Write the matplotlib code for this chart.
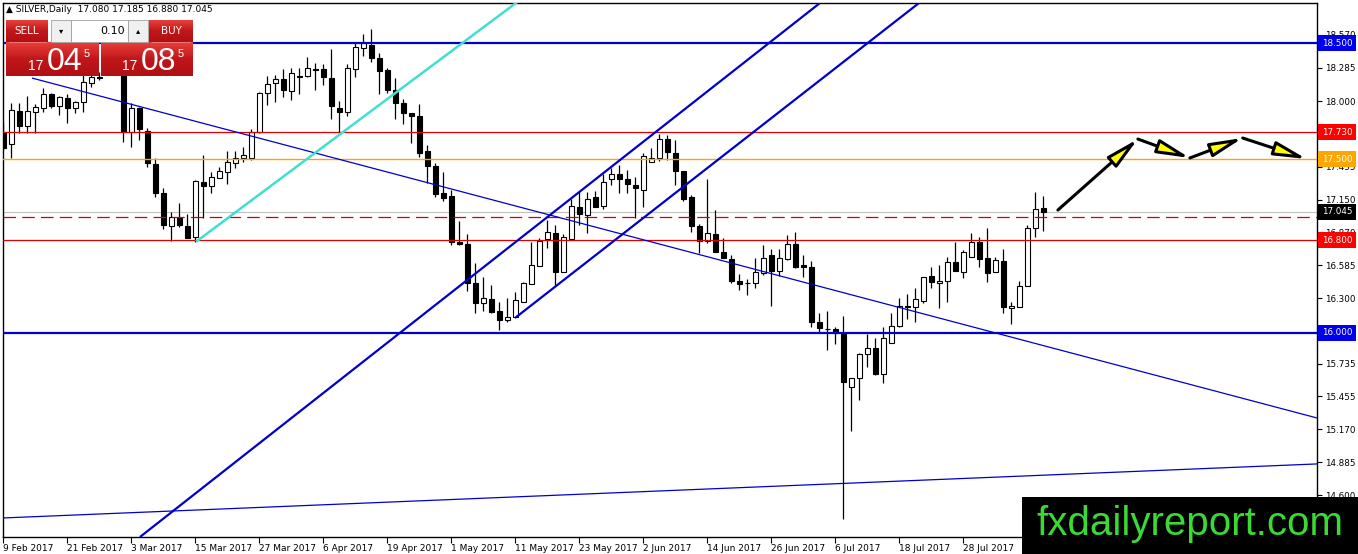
import matplotlib
matplotlib.use("Agg")
import matplotlib.pyplot as plt
import matplotlib.transforms as mtransforms
import numpy as np
from matplotlib.patches import Rectangle, FancyArrowPatch
from matplotlib.colors import LinearSegmentedColormap

# --- daily SILVER candles, bar 0 = 9 Feb 2017, last bar = 11 Aug 2017 ---
opens = [17.733, 17.629, 17.914, 17.784, 17.905, 17.940, 18.060, 17.957, 18.026, 17.940,
         17.991, 18.155, 18.198, 18.267, 18.397, 18.336, 17.733, 17.940, 17.741, 17.457,
         17.207, 16.922, 16.991, 16.922, 16.828, 17.302, 17.267, 17.336, 17.388, 17.466,
         17.509, 17.509, 17.733, 18.069, 18.155, 18.190, 18.086, 18.216, 18.216, 18.276,
         18.276, 18.198, 17.940, 17.905, 18.276, 18.457, 18.483, 18.371, 18.267, 18.095,
         17.983, 17.897, 17.871, 17.569, 17.440, 17.207, 17.181, 16.784, 16.767, 16.431,
         16.259, 16.293, 16.190, 16.112, 16.138, 16.267, 16.422, 16.578, 16.810, 16.862,
         16.526, 16.810, 17.086, 17.017, 17.172, 17.095, 17.328, 17.371, 17.328, 17.276,
         17.233, 17.474, 17.509, 17.672, 17.552, 17.397, 17.172, 16.922, 16.793, 16.853,
         16.698, 16.638, 16.448, 16.431, 16.431, 16.517, 16.672, 16.534, 16.638, 16.767,
         16.586, 16.569, 16.095, 16.034, 16.034, 15.991, 15.534, 15.612, 15.819, 15.871,
         15.647, 15.914, 16.060, 16.233, 16.224, 16.276, 16.491, 16.431, 16.448, 16.612,
         16.526, 16.655, 16.784, 16.647, 16.526, 16.621, 16.216, 16.224, 16.405, 16.905,
         17.080]
highs = [17.819, 17.983, 17.983, 18.043, 17.974, 18.112, 18.069, 18.043, 18.060, 18.000,
         18.224, 18.233, 18.250, 18.440, 18.440, 18.388, 17.983, 17.948, 17.767, 17.509,
         17.250, 17.043, 17.121, 17.026, 17.319, 17.534, 17.388, 17.431, 17.569, 17.569,
         17.603, 17.759, 18.078, 18.216, 18.224, 18.276, 18.284, 18.284, 18.379, 18.328,
         18.319, 18.448, 18.000, 18.319, 18.500, 18.578, 18.621, 18.414, 18.284, 18.198,
         18.017, 17.897, 17.974, 17.621, 17.466, 17.388, 17.233, 16.966, 16.853, 16.603,
         16.483, 16.414, 16.267, 16.302, 16.353, 16.440, 16.784, 16.819, 16.974, 16.931,
         16.853, 17.155, 17.216, 17.216, 17.224, 17.371, 17.422, 17.448, 17.405, 17.345,
         17.552, 17.595, 17.716, 17.707, 17.664, 17.397, 17.190, 16.940, 17.328, 17.060,
         16.819, 16.672, 16.509, 16.466, 16.647, 16.759, 16.724, 16.724, 16.845, 16.871,
         16.672, 16.621, 16.172, 16.190, 16.052, 16.147, 15.612, 15.828, 15.991, 15.957,
         16.052, 16.172, 16.302, 16.336, 16.388, 16.483, 16.569, 16.586, 16.655, 16.784,
         16.716, 16.862, 16.828, 16.905, 16.655, 16.724, 16.267, 16.448, 16.931, 17.216,
         17.185]
lows = [17.578, 17.509, 17.724, 17.724, 17.724, 17.905, 17.940, 17.879, 17.810, 17.897,
        17.905, 18.121, 18.181, 18.250, 18.267, 17.647, 17.603, 17.664, 17.431, 17.172,
        16.897, 16.793, 16.914, 16.819, 16.784, 16.991, 17.207, 17.336, 17.284, 17.422,
        17.474, 17.491, 17.724, 17.966, 17.991, 18.034, 18.009, 18.060, 18.207, 18.095,
        18.138, 17.845, 17.724, 17.871, 18.207, 18.388, 18.336, 18.060, 18.069, 17.845,
        17.802, 17.638, 17.517, 17.293, 17.172, 17.138, 16.759, 16.759, 16.362, 16.172,
        16.190, 16.172, 16.026, 16.095, 16.138, 16.267, 16.422, 16.578, 16.733, 16.405,
        16.526, 16.810, 16.931, 16.862, 17.086, 17.069, 17.276, 17.207, 17.207, 16.991,
        17.086, 17.474, 17.483, 17.491, 17.276, 17.138, 16.871, 16.690, 16.776, 16.698,
        16.647, 16.431, 16.371, 16.328, 16.388, 16.500, 16.233, 16.491, 16.629, 16.560,
        16.483, 16.052, 16.000, 15.853, 15.905, 14.397, 15.155, 15.422, 15.707, 15.638,
        15.569, 15.914, 16.052, 16.121, 16.095, 16.259, 16.388, 16.216, 16.267, 16.534,
        16.474, 16.655, 16.569, 16.440, 16.526, 16.172, 16.078, 16.224, 16.405, 16.828,
        16.880]
closes = [17.595, 17.922, 17.784, 17.914, 17.948, 18.060, 17.957, 18.034, 17.940, 17.991,
          18.164, 18.207, 18.207, 18.397, 18.336, 17.733, 17.940, 17.759, 17.466, 17.207,
          16.931, 17.000, 16.931, 16.819, 17.310, 17.267, 17.345, 17.397, 17.474, 17.509,
          17.534, 17.733, 18.069, 18.147, 18.190, 18.095, 18.241, 18.207, 18.284, 18.267,
          18.207, 17.957, 17.905, 18.284, 18.466, 18.500, 18.371, 18.259, 18.095, 17.983,
          17.897, 17.871, 17.552, 17.440, 17.198, 17.164, 16.784, 16.767, 16.431, 16.259,
          16.302, 16.181, 16.112, 16.138, 16.284, 16.431, 16.586, 16.793, 16.871, 16.526,
          16.828, 17.095, 17.026, 17.155, 17.086, 17.302, 17.371, 17.328, 17.284, 17.250,
          17.526, 17.509, 17.672, 17.560, 17.397, 17.155, 16.922, 16.793, 16.862, 16.698,
          16.647, 16.448, 16.422, 16.427, 16.526, 16.647, 16.534, 16.647, 16.767, 16.569,
          16.569, 16.095, 16.043, 16.034, 16.000, 15.578, 15.612, 15.819, 15.871, 15.647,
          15.957, 16.060, 16.233, 16.224, 16.293, 16.483, 16.440, 16.448, 16.612, 16.534,
          16.698, 16.784, 16.638, 16.517, 16.629, 16.224, 16.233, 16.405, 16.905, 17.069,
          17.045]

# x-axis labels (one every 8 bars) and visible right-axis price ticks
tick_bars = [0, 8, 16, 24, 32, 40, 48, 56, 64, 72, 80, 88, 96, 104, 112, 120]
tick_labels = ["9 Feb 2017", "21 Feb 2017", "3 Mar 2017", "15 Mar 2017", "27 Mar 2017",
               "6 Apr 2017", "19 Apr 2017", "1 May 2017", "11 May 2017", "23 May 2017",
               "2 Jun 2017", "14 Jun 2017", "26 Jun 2017", "6 Jul 2017", "18 Jul 2017",
               "28 Jul 2017"]
price_ticks = [18.570, 18.285, 18.000, 17.435, 17.150, 16.870, 16.585, 16.300,
               15.735, 15.455, 15.170, 14.885, 14.600]

# horizontal levels drawn on the chart
level_prices = [18.500, 17.730, 17.500, 16.800, 16.000]
level_colors = ["#0000CD", "#E00000", "#FFA500", "#E00000", "#0000CD"]
level_widths = [1.6, 0.9, 1.0, 0.9, 1.6]
bid_price = 17.045
dashed_price = 17.000

# trend lines: (bar0, price0, bar1, price1)
trend_lines = [
    (3.56, 18.198, 164.2, 15.267),    # thin falling line
    (-0.1, 14.405, 164.2, 14.871),    # thin rising line at the bottom
    (17.06, 14.241, 102.06, 18.845),  # channel, lower-left
    (63.94, 16.129, 114.44, 18.845),  # channel, started at May low
]
trend_widths = [0.9, 0.9, 1.6, 1.6]
cyan_line = (24.19, 16.793, 64.06, 18.845)

# forecast arrows path (bar, price)
path_bars = [131.8, 141.8, 148.3, 154.9, 162.9]
path_prices = [17.060, 17.672, 17.509, 17.681, 17.500]

W, H = 1358, 554
fig = plt.figure(figsize=(W / 100, H / 100), dpi=100)
fig.patch.set_facecolor("white")
ax = fig.add_axes([3 / W, (H - 537) / H, (1317 - 3) / W, (537 - 3) / H])
ax.set_facecolor("white")

o = np.array(opens); h = np.array(highs); l = np.array(lows); c = np.array(closes)
idx = np.arange(len(o))
up = c >= o

# --- candles ---
ax.vlines(idx, l, h, color="black", lw=0.9, zorder=2)
body_lo = np.minimum(o, c)
body_h = np.maximum(np.abs(c - o), 0.004)
ax.bar(idx, body_h, bottom=body_lo, width=0.62,
       color=np.where(up, "white", "black"), edgecolor="black", linewidth=0.8, zorder=3)

# --- levels ---
for p, col, lw in zip(level_prices, level_colors, level_widths):
    ax.axhline(p, color=col, lw=lw, zorder=4)
ax.axhline(bid_price, color="#C0C0C0", lw=0.8, zorder=1)
ax.axhline(dashed_price, color="#D00000", lw=0.9, linestyle=(0, (10, 5)), zorder=4)

for (x0, y0, x1, y1), lw in zip(trend_lines, trend_widths):
    ax.plot([x0, x1], [y0, y1], color="#0000CD", lw=lw, zorder=4, solid_capstyle="butt")
ax.plot([cyan_line[0], cyan_line[2]], [cyan_line[1], cyan_line[3]], color="#40E0D0", lw=1.8, zorder=4)

for k in range(len(path_bars) - 1):
    arr = FancyArrowPatch((path_bars[k], path_prices[k]), (path_bars[k + 1], path_prices[k + 1]),
                          arrowstyle="-|>,head_length=0.65,head_width=0.14", mutation_scale=30,
                          facecolor="yellow", edgecolor="black", lw=2.2,
                          shrinkA=0, shrinkB=0, zorder=7)
    ax.add_patch(arr)

ax.set_xlim(-0.06, 164.19)
ax.set_ylim(14.241, 18.845)

# --- axes styling ---
for sp in ax.spines.values():
    sp.set_color("black")
    sp.set_linewidth(1.0)
ax.yaxis.tick_right()
ax.set_yticks(price_ticks, [f"{v:.3f}" for v in price_ticks])
ax.tick_params(axis="y", direction="out", length=3.5, width=0.8, labelsize=6.3, pad=2)
ax.set_xticks(tick_bars, tick_labels)
ax.tick_params(axis="x", direction="out", length=4, width=0.8, labelsize=6.5, pad=1)
for lab in ax.get_xticklabels():
    lab.set_ha("left")

# price boxes on the right axis
trans = mtransforms.blended_transform_factory(ax.transAxes, ax.transData)
box_items = [(18.500, "#0000EE", "white"), (17.730, "#FF0000", "white"),
             (17.500, "#FFA500", "white"), (bid_price, "black", "white"),
             (16.800, "#FF0000", "white"), (16.000, "#0000EE", "white")]
for p, fc, tc in box_items:
    ax.annotate(f"{p:.3f}", xy=(1, p), xycoords=trans, xytext=(3.5, 0),
                textcoords="offset points", ha="left", va="center", fontsize=6.3,
                color=tc, annotation_clip=False, zorder=8,
                bbox=dict(boxstyle="square,pad=0.4", fc=fc, ec="none"))

# --- overlay: trade panel, header and logo (pixel coordinates) ---
ui = fig.add_axes([0, 0, 1, 1])
ui.axis("off")
reds = LinearSegmentedColormap.from_list("reds", ["#E8403A", "#C0161A", "#B01014"])
grad = np.linspace(0, 1, 60).reshape(-1, 1)


def red_box(x0, x1, y0, y1):
    ui.imshow(grad, extent=(x0, x1, y1, y0), origin="upper", cmap=reds, aspect="auto", zorder=2)


red_box(6, 48, 20, 42)      # SELL
red_box(149, 193, 20, 42)   # BUY
red_box(6, 99, 42, 76)      # bid
red_box(101, 193, 42, 76)   # ask
ui.add_patch(Rectangle((51, 20), 20, 22, fc="#F0F0F0", ec="#A0A0A0", lw=0.6, zorder=2))
ui.add_patch(Rectangle((71, 20), 57, 22, fc="white", ec="#A0A0A0", lw=0.6, zorder=2))
ui.add_patch(Rectangle((128, 20), 20, 22, fc="#F0F0F0", ec="#A0A0A0", lw=0.6, zorder=2))
ui.plot([9, 46], [42, 42], color="#F08080", lw=0.6, zorder=3)
ui.plot([152, 190], [42, 42], color="#F08080", lw=0.6, zorder=3)

ui.text(27, 31, "SELL", color="white", fontsize=7.5, ha="center", va="center", zorder=4)
ui.text(171, 31, "BUY", color="white", fontsize=7.5, ha="center", va="center", zorder=4)
ui.text(61, 31, "\u25BE", color="black", fontsize=6, ha="center", va="center", zorder=4)
ui.text(138, 31, "\u25B4", color="black", fontsize=6, ha="center", va="center", zorder=4)
ui.text(125, 31, "0.10", color="black", fontsize=8, ha="right", va="center", zorder=4)

ui.text(36, 70, "17", color="white", fontsize=10, ha="center", va="baseline", family="Liberation Sans", zorder=4)
ui.text(65, 70, "04", color="white", fontsize=23, ha="center", va="baseline", family="Liberation Sans", zorder=4)
ui.text(87, 57, "5", color="white", fontsize=8, ha="center", va="baseline", family="Liberation Sans", zorder=4)
ui.text(130, 70, "17", color="white", fontsize=10, ha="center", va="baseline", family="Liberation Sans", zorder=4)
ui.text(158, 70, "08", color="white", fontsize=23, ha="center", va="baseline", family="Liberation Sans", zorder=4)
ui.text(181, 57, "5", color="white", fontsize=8, ha="center", va="baseline", family="Liberation Sans", zorder=4)

ui.text(6, 10, "\u25B2 SILVER,Daily  17.080 17.185 16.880 17.045", color="black",
        fontsize=6.5, ha="left", va="center", zorder=4)

ui.add_patch(Rectangle((1022, 497), W - 1022, H - 497, fc="black", ec="none", zorder=5))
ui.text(1190, 524, "fxdailyreport.com", color="#3BD934", fontsize=29, family="Liberation Sans",
        ha="center", va="center", zorder=6)

ui.set_xlim(0, W)
ui.set_ylim(H, 0)

fig.savefig("out.png", dpi=100)
